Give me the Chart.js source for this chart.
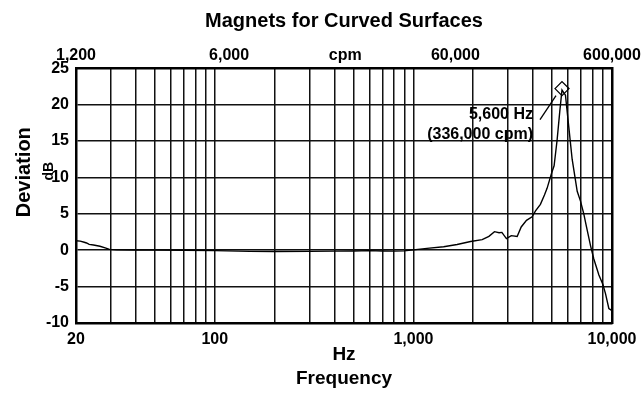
<!DOCTYPE html>
<html>
<head>
<meta charset="utf-8">
<script src="https://cdn.jsdelivr.net/npm/chart.js@4.4.0/dist/chart.umd.min.js"></script>
<style>
html,body{margin:0;padding:0;background:#fff;}
canvas{display:block;}
</style>
</head>
<body>
<canvas id="c" width="644" height="395"></canvas>
<script>
// ---- data ----
const chartTitle = 'Magnets for Curved Surfaces';
const xTitle = ['Hz', 'Frequency'];
const yTitleMain = 'Deviation';
const yTitleUnit = 'dB';

const freqHz = [20,21,22,22.6,23.3,24.5,26.4,28.3,29.5,32,
  40,50,70,100,150,200,300,400,500,600,
  700,800,900,1000,1170,1420,1660,1940,2220,2400,
  2560,2700,2790,2940,3110,3330,3490,3710,3960,4120,
  4360,4570,4710,4980,5110,5290,5460,5600,5830,6060,
  6300,6680,6940,7210,7440,7800,8100,8590,9000,9280,
  9640,10000];
const deviationDb = [1.3,1.25,1.1,1.0,0.8,0.72,0.55,0.28,0.12,0.05,
  0.03,0.02,0,-0.05,-0.15,-0.17,-0.15,-0.12,-0.1,-0.05,
  -0.1,-0.12,-0.08,0.05,0.26,0.48,0.79,1.2,1.45,1.9,
  2.55,2.4,2.45,1.6,2.0,1.9,3.2,4.1,4.6,5.4,
  6.3,7.6,8.5,10.7,11.6,15.1,19.1,22.0,21.3,16.9,
  12.5,8.1,6.75,5.0,3.2,0.6,-1.2,-3.4,-4.7,-6.0,
  -8.0,-8.3];

const peakHz = [5600];
const peakDb = [22.2];
const peakLabel = ['5,600 Hz', '(336,000 cpm)'];

const xLabelHz = [20, 100, 1000, 10000];
const xLabelText = ['20', '100', '1,000', '10,000'];
const cpmTickPos = [1200, 7080, 27230, 97620, 600000];
const cpmTickText = ['1,200', '6,000', 'cpm', '60,000', '600,000'];
const yTicks = [-10, -5, 0, 5, 10, 15, 20, 25];

// log grid lines 20..10000
const xGridHz = [];
[10, 100, 1000].forEach(d => { for (let m = 1; m <= 9; m++) { const v = m * d; if (v >= 20) xGridHz.push(v); } });
xGridHz.push(10000);

// ---- chart ----
const FONT = "'Liberation Sans', Arial, sans-serif";
Chart.defaults.font.family = FONT;
Chart.defaults.color = '#000';

const textPlugin = {
  id: 'texts',
  afterDraw(chart) {
    const {ctx, chartArea: a, scales} = chart;
    ctx.save();
    ctx.fillStyle = '#000';
    ctx.textBaseline = 'middle';
    ctx.textAlign = 'center';
    ctx.font = 'bold 20px ' + FONT;
    ctx.save(); ctx.translate(a.left - 52, a.top + 104); ctx.rotate(-Math.PI / 2); ctx.fillText(yTitleMain, 0, 0); ctx.restore();
    ctx.font = 'bold 14px ' + FONT;
    ctx.save(); ctx.translate(a.left - 27, a.top + 103); ctx.rotate(-Math.PI / 2); ctx.fillText(yTitleUnit, 0, 0); ctx.restore();
    const px = scales.x.getPixelForValue(peakHz[0]);
    const py = scales.y.getPixelForValue(peakDb[0]);
    ctx.strokeStyle = '#000';
    ctx.lineWidth = 1.3;
    ctx.beginPath(); ctx.moveTo(px - 22, py + 31); ctx.lineTo(px - 6, py + 7); ctx.stroke();
    ctx.font = 'bold 16px ' + FONT;
    ctx.textAlign = 'right';
    ctx.fillText(peakLabel[0], px - 29, py + 26);
    ctx.fillText(peakLabel[1], px - 29, py + 46);
    ctx.restore();
  }
};

new Chart(document.getElementById('c'), {
  type: 'line',
  data: {
    datasets: [
      {
        label: 'peak',
        data: peakHz.map((x, i) => ({x, y: peakDb[i]})),
        showLine: false,
        pointStyle: 'rectRot',
        pointRadius: 7,
        pointBorderWidth: 1.3,
        pointBorderColor: '#000',
        pointBackgroundColor: 'rgba(0,0,0,0)',
        order: 0
      },
      {
        label: 'deviation',
        data: freqHz.map((x, i) => ({x, y: deviationDb[i]})),
        borderColor: '#000',
        borderWidth: 1.4,
        pointRadius: 0,
        tension: 0,
        fill: false,
        order: 1
      }
    ]
  },
  options: {
    responsive: false,
    animation: false,
    devicePixelRatio: 1,
    layout: {padding: {left: 0, right: 32, top: 0, bottom: 0}},
    plugins: {
      legend: {display: false},
      tooltip: {enabled: false},
      title: {
        display: true, text: chartTitle, fullSize: false, color: '#000',
        font: {size: 20, weight: 'bold'}, padding: {top: 9, bottom: 10}
      }
    },
    scales: {
      x: {
        type: 'logarithmic', position: 'bottom', min: 20, max: 10000,
        afterBuildTicks: s => { s.ticks = xGridHz.map(v => ({value: v})); },
        ticks: {
          autoSkip: false, maxRotation: 0, minRotation: 0, padding: 7, color: '#000',
          font: {size: 16, weight: 'bold'},
          callback: v => { const i = xLabelHz.indexOf(v); return i >= 0 ? xLabelText[i] : ''; }
        },
        grid: {color: '#111', lineWidth: 1.5, drawTicks: false},
        border: {color: '#000', width: 2.5},
        title: {
          display: true, text: xTitle, color: '#000',
          font: {size: 19, weight: 'bold', lineHeight: 1.23},
          padding: {top: -13, bottom: 5}
        }
      },
      x2: {
        type: 'logarithmic', position: 'top', min: 1200, max: 600000,
        afterBuildTicks: s => { s.ticks = cpmTickPos.map(v => ({value: v})); },
        ticks: {
          autoSkip: false, maxRotation: 0, minRotation: 0, padding: 3, color: '#000',
          font: {size: 16, weight: 'bold'},
          callback: (v, i) => cpmTickText[i]
        },
        grid: {drawOnChartArea: false, drawTicks: false},
        border: {color: '#000', width: 2.5}
      },
      y: {
        type: 'linear', position: 'left', min: -10, max: 25,
        afterBuildTicks: s => { s.ticks = yTicks.map(v => ({value: v})); },
        afterFit: s => { s.width = 76; },
        ticks: {padding: 7, color: '#000', font: {size: 16, weight: 'bold'}},
        grid: {color: '#111', lineWidth: 1.5, drawTicks: false},
        border: {color: '#000', width: 2.5}
      },
      yR: {
        type: 'linear', position: 'right', min: -10, max: 25,
        ticks: {display: false},
        grid: {drawOnChartArea: false, drawTicks: false},
        border: {color: '#000', width: 2.5}
      }
    }
  },
  plugins: [textPlugin]
});
</script>
</body>
</html>
